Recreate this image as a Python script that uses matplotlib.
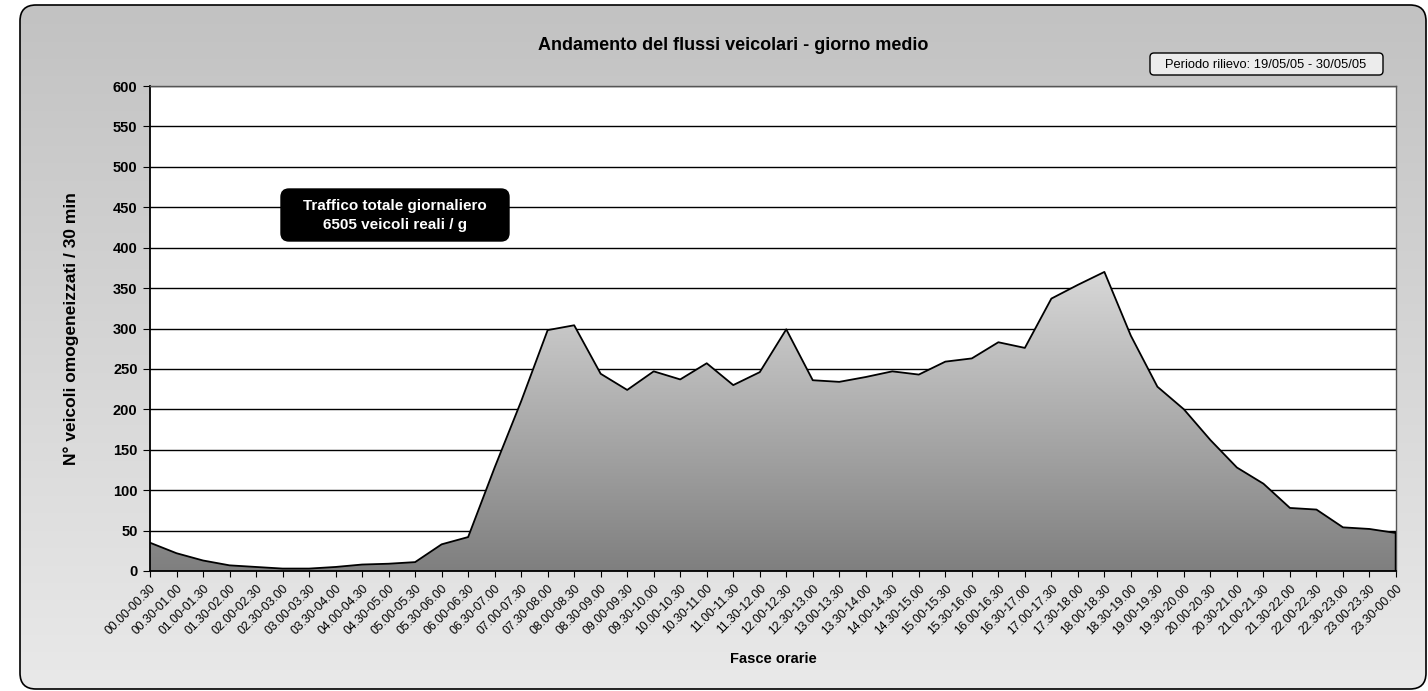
import matplotlib.pyplot as plt
import numpy as np
from matplotlib.patches import FancyBboxPatch
from matplotlib.colors import LinearSegmentedColormap

plt.rcParams['font.family'] = ['Liberation Sans', 'DejaVu Sans']

fasce = ["00.00-00.30", "00.30-01.00", "01.00-01.30", "01.30-02.00", "02.00-02.30", "02.30-03.00",
         "03.00-03.30", "03.30-04.00", "04.00-04.30", "04.30-05.00", "05.00-05.30", "05.30-06.00",
         "06.00-06.30", "06.30-07.00", "07.00-07.30", "07.30-08.00", "08.00-08.30", "08.30-09.00",
         "09.00-09.30", "09.30-10.00", "10.00-10.30", "10.30-11.00", "11.00-11.30", "11.30-12.00",
         "12.00-12.30", "12.30-13.00", "13.00-13.30", "13.30-14.00", "14.00-14.30", "14.30-15.00",
         "15.00-15.30", "15.30-16.00", "16.00-16.30", "16.30-17.00", "17.00-17.30", "17.30-18.00",
         "18.00-18.30", "18.30-19.00", "19.00-19.30", "19.30-20.00", "20.00-20.30", "20.30-21.00",
         "21.00-21.30", "21.30-22.00", "22.00-22.30", "22.30-23.00", "23.00-23.30", "23.30-00.00"]

veicoli = [35, 22, 13, 7, 5, 3, 3, 5, 8, 9, 11, 33,
           42, 128, 210, 298, 304, 244, 224, 247, 237, 257,
           230, 246, 299, 236, 234, 240, 247, 243, 259, 263,
           283, 276, 337, 354, 370, 291, 228, 200, 162, 128,
           108, 78, 76, 54, 52, 47]

W, H = 1428, 691
fig = plt.figure(figsize=(W / 100, H / 100), dpi=100)
fig.patch.set_facecolor('white')

# sfondo sfumato con bordo arrotondato (coordinate in pixel)
bg = fig.add_axes([0, 0, 1, 1])
bg.set_xlim(0, W)
bg.set_ylim(H, 0)
bg.axis('off')
grad = np.linspace(0, 1, 256).reshape(-1, 1)
cm_bg = LinearSegmentedColormap.from_list('bg', ['#c2c2c2', '#e9e9e9'])
img = bg.imshow(grad, cmap=cm_bg, extent=[20, 1426, 689, 5], aspect='auto', zorder=0)
box = FancyBboxPatch((20, 5), 1406, 684, boxstyle='round,pad=0,rounding_size=16',
                     facecolor='none', edgecolor='black', linewidth=1.2, zorder=2)
bg.add_patch(box)
img.set_clip_path(box)

# riquadro periodo
bg.add_patch(FancyBboxPatch((1150, 53), 233, 22, boxstyle='round,pad=0,rounding_size=4',
                            facecolor='#ececec', edgecolor='black', linewidth=1.0, zorder=3))
bg.text(1266, 64.5, "Periodo rilievo: 19/05/05 - 30/05/05", ha='center', va='center',
        fontsize=9.3, zorder=4)

ax = fig.add_axes([150 / W, (H - 571) / H, 1246 / W, 485 / H])
ax.set_facecolor('white')
x = np.arange(len(veicoli))

for yv in range(50, 601, 50):
    ax.axhline(yv, color='black', linewidth=1.0, zorder=1)

# area con sfumatura
poly = ax.fill_between(x, veicoli, 0, facecolor='none', edgecolor='none', zorder=2)
cm_area = LinearSegmentedColormap.from_list('area', ['#7f7f7f', '#dadada'])
gimg = ax.imshow(grad, cmap=cm_area, origin='lower', extent=[0, len(veicoli) - 1, 0, 380],
                 aspect='auto', zorder=2)
gimg.set_clip_path(poly.get_paths()[0], transform=ax.transData)
ax.plot(x, veicoli, color='black', linewidth=1.3, zorder=3)
ax.plot([x[-1], x[-1]], [0, veicoli[-1]], color='black', linewidth=2.5, zorder=3)
ax.set_xlim(0, len(veicoli) - 1)
ax.set_ylim(0, 600)

for s in ['top', 'right']:
    ax.spines[s].set_color('#555555')
    ax.spines[s].set_linewidth(1.0)
ax.spines['left'].set_color('black')
ax.spines['bottom'].set_color('black')
ax.spines['left'].set_linewidth(1.3)
ax.spines['bottom'].set_linewidth(1.3)

ax.set_yticks(range(0, 601, 50))
ax.tick_params(axis='y', direction='out', length=5, labelsize=10.5, pad=4)
for t in ax.get_yticklabels():
    t.set_fontweight('bold')
ax.set_xticks(x)
ax.set_xticklabels(fasce, rotation=45, ha='right', rotation_mode='anchor', fontsize=8.8)
ax.tick_params(axis='x', direction='out', length=4, pad=4)

ax.set_ylabel("N° veicoli omogeneizzati / 30 min", fontsize=12.5, fontweight='bold')
ax.yaxis.set_label_coords(-0.057, 0.5)
ax.set_xlabel("Fasce orarie", fontsize=10.5, fontweight='bold')
ax.xaxis.set_label_coords(0.5, -0.168)

fig.text(733 / W, 1 - 46 / H, "Andamento del flussi veicolari - giorno medio",
         ha='center', va='center', fontsize=13, fontweight='bold')

# riquadro traffico totale
note = fig.add_axes([0, 0, 1, 1])
note.set_xlim(0, W)
note.set_ylim(H, 0)
note.axis('off')
note.add_patch(FancyBboxPatch((281, 189), 228, 52, boxstyle='round,pad=0,rounding_size=8',
                              facecolor='black', edgecolor='black'))
note.text(395, 215.5, "Traffico totale giornaliero\n6505 veicoli reali / g", ha='center',
          va='center', fontsize=11, fontweight='bold', color='white', linespacing=1.45)

fig.savefig('out.png', dpi=100)
